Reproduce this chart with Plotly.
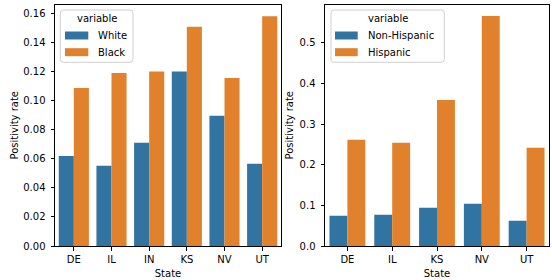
import plotly.graph_objects as go

states_left = ["DE", "IL", "IN", "KS", "NV", "UT"]
white = [0.0619, 0.0551, 0.0709, 0.1198, 0.0894, 0.0565]
black = [0.1086, 0.1189, 0.1198, 0.1506, 0.1154, 0.1579]

states_right = ["DE", "IL", "KS", "NV", "UT"]
non_hispanic = [0.0746, 0.0770, 0.0943, 0.1041, 0.0623]
hispanic = [0.2615, 0.2540, 0.3598, 0.5664, 0.2418]

legend_title = "variable"
left_names = ["White", "Black"]
right_names = ["Non-Hispanic", "Hispanic"]

BLUE = "#3274a1"
ORANGE = "#e1812c"
FONT = dict(family="DejaVu Sans", size=10, color="black")
W, H = 552, 280

fig = go.Figure()
fig.add_trace(go.Bar(x=states_left, y=white, name=left_names[0], marker_color=BLUE,
                     marker_line_width=0, xaxis="x", yaxis="y", showlegend=False))
fig.add_trace(go.Bar(x=states_left, y=black, name=left_names[1], marker_color=ORANGE,
                     marker_line_width=0, xaxis="x", yaxis="y", showlegend=False))
fig.add_trace(go.Bar(x=states_right, y=non_hispanic, name=right_names[0], marker_color=BLUE,
                     marker_line_width=0, xaxis="x2", yaxis="y2", showlegend=False))
fig.add_trace(go.Bar(x=states_right, y=hispanic, name=right_names[1], marker_color=ORANGE,
                     marker_line_width=0, xaxis="x2", yaxis="y2", showlegend=False))

axis_common = dict(showline=True, linecolor="black", linewidth=1, mirror=True,
                   ticks="outside", ticklen=3.5, tickwidth=1, tickcolor="black",
                   showgrid=False, zeroline=False, tickfont=FONT,
                   title_font=FONT, automargin=True)


def px(x):
    return x / W


def py(y):
    return (H - y) / H


shapes = []
annotations = []


def add_legend(x0, x1, y0, y1, patch_x0, patch_x1, text_x, names):
    r = 3
    path = (f"M {px(x0 + r)},{py(y0)} L {px(x1 - r)},{py(y0)} "
            f"Q {px(x1)},{py(y0)} {px(x1)},{py(y0 + r)} L {px(x1)},{py(y1 - r)} "
            f"Q {px(x1)},{py(y1)} {px(x1 - r)},{py(y1)} L {px(x0 + r)},{py(y1)} "
            f"Q {px(x0)},{py(y1)} {px(x0)},{py(y1 - r)} L {px(x0)},{py(y0 + r)} "
            f"Q {px(x0)},{py(y0)} {px(x0 + r)},{py(y0)} Z")
    shapes.append(dict(type="path", path=path, xref="paper", yref="paper",
                       line=dict(color="#d0d0d0", width=1),
                       fillcolor="rgba(255,255,255,0.8)", layer="above"))
    annotations.append(dict(text=legend_title, x=px((x0 + x1) / 2), y=py(19),
                            xref="paper", yref="paper", xanchor="center", yanchor="middle",
                            showarrow=False, font=FONT))
    for name, color, cy in zip(names, [BLUE, ORANGE], [35.5, 52.2]):
        shapes.append(dict(type="rect", xref="paper", yref="paper",
                           x0=px(patch_x0), x1=px(patch_x1), y0=py(cy - 4), y1=py(cy + 4),
                           fillcolor=color, line=dict(width=0), layer="above"))
        annotations.append(dict(text=name, x=px(text_x), y=py(cy), xref="paper", yref="paper",
                                xanchor="left", yanchor="middle", showarrow=False, font=FONT))


add_legend(60.3, 133, 10, 62.3, 65, 88.3, 95.5, left_names)
add_legend(331, 444.3, 10, 62.3, 335, 357.7, 366, right_names)

fig.update_layout(
    width=W, height=H,
    margin=dict(l=0, r=0, t=0, b=0, autoexpand=False),
    paper_bgcolor="white", plot_bgcolor="white",
    font=FONT,
    barmode="group", bargap=0.2, bargroupgap=0,
    showlegend=False,
    xaxis=dict(domain=[px(55), px(281)], anchor="y", title=dict(text="State", standoff=6),
               range=[-0.5, 5.5], ticklabelstandoff=0, **axis_common),
    yaxis=dict(domain=[py(246), py(4.5)], anchor="x",
               title=dict(text="Positivity rate", standoff=2),
               range=[0, 0.1659], dtick=0.02, tickformat=".2f", ticklabelstandoff=3,
               **axis_common),
    xaxis2=dict(domain=[px(325), px(549)], anchor="y2", title=dict(text="State", standoff=6),
                range=[-0.5, 4.5], ticklabelstandoff=0, **axis_common),
    yaxis2=dict(domain=[py(246), py(4.5)], anchor="x2",
                title=dict(text="Positivity rate", standoff=4),
                range=[0, 0.5947], dtick=0.1, tickformat=".1f", ticklabelstandoff=3,
                **axis_common),
    shapes=shapes,
    annotations=annotations,
)

fig.write_html("out.html", config={"displayModeBar": False},
               post_script="document.body.style.margin='0';document.body.style.overflow='hidden';")
